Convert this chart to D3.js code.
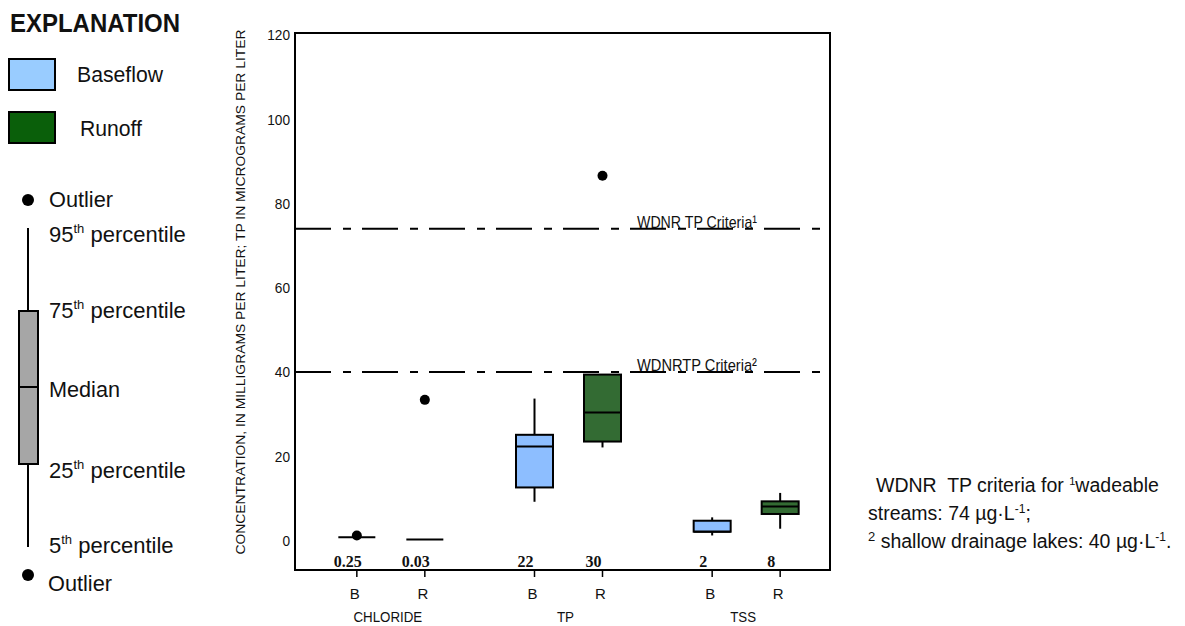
<!DOCTYPE html>
<html><head><meta charset="utf-8">
<script src="https://cdn.jsdelivr.net/npm/d3@7"></script>
<style>
body{margin:0;background:#fff}
svg{display:block}
text{font-family:"Liberation Sans",Arial,sans-serif;fill:#111}
</style>
</head><body>
<svg id="c" width="1185" height="626"></svg>
<script>
// ---------- data ----------
const groups = ["CHLORIDE", "TP", "TSS"];
const flows = ["B", "R"];
const boxGroup = ["CHLORIDE", "CHLORIDE", "TP", "TP", "TSS", "TSS"];
const boxFlow = ["B", "R", "B", "R", "B", "R"];
const q1 = [0.8, 0.25, 12.6, 23.5, 2.1, 6.3];
const medians = [0.8, 0.25, 22.3, 30.4, 2.1, 8.1];
const q3 = [0.8, 0.25, 25.1, 39.4, 4.7, 9.3];
const whiskerLo = [0.8, 0.25, 9.2, 22.1, 1.2, 2.8];
const whiskerHi = [0.8, 0.25, 33.7, 39.4, 5.5, 11.3];
const outliers = [[1.2], [33.4], [], [86.6], [], []];
const medianLabels = ["0.25", "0.03", "22", "30", "2", "8"];
const yTicks = [0, 20, 40, 60, 80, 100, 120];
const criteriaValues = [74, 40];
const criteriaLabels = ["WDNR TP Criteria\u00B9", "WDNRTP Criteria\u00B2"];

const flowFill = {B: "#8DBEFF", R: "#336B33"};

// ---------- scales ----------
const svg = d3.select("#c");
const plot = {left: 295, right: 830, top: 33, bottom: 570};
const y = d3.scaleLinear().domain([-7, 120.5]).range([plot.bottom, plot.top]);
const x0 = d3.scaleBand().domain(groups).range([302, 835]);
const x1 = d3.scalePoint().domain(flows).range([-34, 34]);
const xPos = i => x0(boxGroup[i]) + x0.bandwidth() / 2 + x1(boxFlow[i]);
const boxW = 37;
const idx = d3.range(boxGroup.length);

// ---------- criteria lines ----------
const crit = svg.append("g");
crit.selectAll("line").data(criteriaValues).join("line")
  .attr("x1", plot.left).attr("x2", plot.right)
  .attr("y1", d => y(d)).attr("y2", d => y(d))
  .attr("stroke", "#000").attr("stroke-width", 2)
  .attr("stroke-dasharray", "36,12,8,11");
crit.selectAll("text").data(criteriaValues).join("text")
  .attr("x", 637).attr("y", d => y(d) - 1)
  .attr("font-size", 17).attr("textLength", 120).attr("lengthAdjust", "spacingAndGlyphs")
  .text((d, i) => criteriaLabels[i]);

// ---------- boxes ----------
const bx = svg.append("g");
bx.selectAll("line.wh").data(idx).join("line").attr("class", "wh")
  .attr("x1", i => xPos(i)).attr("x2", i => xPos(i))
  .attr("y1", i => y(whiskerHi[i])).attr("y2", i => y(q3[i]))
  .attr("stroke", "#000").attr("stroke-width", 2);
bx.selectAll("line.wl").data(idx).join("line").attr("class", "wl")
  .attr("x1", i => xPos(i)).attr("x2", i => xPos(i))
  .attr("y1", i => y(q1[i])).attr("y2", i => y(whiskerLo[i]))
  .attr("stroke", "#000").attr("stroke-width", 2);
bx.selectAll("rect").data(idx).join("rect")
  .attr("x", i => xPos(i) - boxW / 2).attr("width", boxW)
  .attr("y", i => y(q3[i])).attr("height", i => y(q1[i]) - y(q3[i]))
  .attr("fill", i => flowFill[boxFlow[i]])
  .attr("stroke", "#000").attr("stroke-width", 2);
bx.selectAll("line.md").data(idx).join("line").attr("class", "md")
  .attr("x1", i => xPos(i) - boxW / 2).attr("x2", i => xPos(i) + boxW / 2)
  .attr("y1", i => y(medians[i])).attr("y2", i => y(medians[i]))
  .attr("stroke", "#000").attr("stroke-width", 2);
const outPts = idx.flatMap(i => outliers[i].map(v => ({i, v})));
bx.selectAll("circle").data(outPts).join("circle")
  .attr("cx", d => xPos(d.i)).attr("cy", d => y(d.v)).attr("r", 5).attr("fill", "#000");

// ---------- frame ----------
svg.append("rect").attr("x", plot.left).attr("y", plot.top)
  .attr("width", plot.right - plot.left).attr("height", plot.bottom - plot.top)
  .attr("fill", "none").attr("stroke", "#000").attr("stroke-width", 2);

// ---------- y axis ----------
const ya = svg.append("g").attr("transform", `translate(${plot.left},0)`)
  .call(d3.axisLeft(y).tickValues(yTicks).tickSize(0).tickPadding(5));
ya.select(".domain").remove();
ya.selectAll("text").attr("font-size", 15).attr("fill", "#111")
  .attr("textLength", d => String(d).length * 7.6).attr("lengthAdjust", "spacingAndGlyphs")
  .style("font-family", '"Liberation Sans",Arial,sans-serif');

svg.append("text")
  .attr("transform", "translate(245,292) rotate(-90)")
  .attr("text-anchor", "middle").attr("font-size", 13.5)
  .attr("textLength", 525).attr("lengthAdjust", "spacingAndGlyphs")
  .text("CONCENTRATION, IN MILLIGRAMS PER LITER; TP IN MICROGRAMS PER LITER");

// ---------- x axis ----------
const xa = svg.append("g");
xa.selectAll("line").data(idx).join("line")
  .attr("x1", i => xPos(i)).attr("x2", i => xPos(i))
  .attr("y1", plot.bottom).attr("y2", plot.bottom + 7)
  .attr("stroke", "#000").attr("stroke-width", 1.5);
xa.selectAll("text.fl").data(idx).join("text").attr("class", "fl")
  .attr("x", i => xPos(i) - 2).attr("y", 599)
  .attr("text-anchor", "middle").attr("font-size", 15)
  .text(i => boxFlow[i]);
xa.selectAll("text.gr").data(groups).join("text").attr("class", "gr")
  .attr("x", g => x0(g) + x0.bandwidth() / 2 - 3).attr("y", 622)
  .attr("text-anchor", "middle").attr("font-size", 14.5)
  .attr("textLength", g => g.length * 8.6).attr("lengthAdjust", "spacingAndGlyphs")
  .text(g => g);
xa.selectAll("text.ml").data(idx).join("text").attr("class", "ml")
  .attr("x", i => xPos(i) - 9).attr("y", 567)
  .attr("text-anchor", "middle").attr("font-size", 16).attr("font-weight", "bold")
  .style("font-family", '"Liberation Serif","Times New Roman",serif')
  .text(i => medianLabels[i]);

// ---------- explanation (legend) ----------
const lg = svg.append("g");
lg.append("text").attr("x", 10).attr("y", 32).attr("font-size", 26).attr("font-weight", "bold")
  .attr("textLength", 170).attr("lengthAdjust", "spacingAndGlyphs").text("EXPLANATION");
lg.append("rect").attr("x", 9).attr("y", 59).attr("width", 46).attr("height", 31)
  .attr("fill", "#99CCFF").attr("stroke", "#000").attr("stroke-width", 2);
lg.append("text").attr("x", 77).attr("y", 82).attr("font-size", 22.5)
  .attr("textLength", 86).attr("lengthAdjust", "spacingAndGlyphs").text("Baseflow");
lg.append("rect").attr("x", 9).attr("y", 112).attr("width", 46).attr("height", 31)
  .attr("fill", "#0A5F0A").attr("stroke", "#000").attr("stroke-width", 2);
lg.append("text").attr("x", 80).attr("y", 136).attr("font-size", 22.5)
  .attr("textLength", 62).attr("lengthAdjust", "spacingAndGlyphs").text("Runoff");

lg.append("circle").attr("cx", 28).attr("cy", 200).attr("r", 6).attr("fill", "#000");
lg.append("text").attr("x", 49).attr("y", 207).attr("font-size", 22.5)
  .attr("textLength", 64).attr("lengthAdjust", "spacingAndGlyphs").text("Outlier");
lg.append("line").attr("x1", 28).attr("x2", 28).attr("y1", 228).attr("y2", 311)
  .attr("stroke", "#000").attr("stroke-width", 2);
lg.append("line").attr("x1", 28).attr("x2", 28).attr("y1", 464).attr("y2", 547)
  .attr("stroke", "#000").attr("stroke-width", 2);
lg.append("rect").attr("x", 19).attr("y", 311).attr("width", 19).attr("height", 153)
  .attr("fill", "#A6A6A6").attr("stroke", "#000").attr("stroke-width", 2);
lg.append("line").attr("x1", 19).attr("x2", 38).attr("y1", 387).attr("y2", 387)
  .attr("stroke", "#000").attr("stroke-width", 2);
lg.append("circle").attr("cx", 28).attr("cy", 575).attr("r", 6).attr("fill", "#000");
lg.append("text").attr("x", 48).attr("y", 591).attr("font-size", 22.5)
  .attr("textLength", 64).attr("lengthAdjust", "spacingAndGlyphs").text("Outlier");
lg.append("text").attr("x", 49).attr("y", 397).attr("font-size", 22.5)
  .attr("textLength", 71).attr("lengthAdjust", "spacingAndGlyphs").text("Median");

function pct(xp, yp, num) {
  const t = lg.append("text").attr("x", xp).attr("y", yp).attr("font-size", 22);
  t.append("tspan").text(num);
  t.append("tspan").attr("font-size", 13).attr("dy", -9).text("th");
  t.append("tspan").attr("dy", 9).text(" percentile");
}
pct(49, 242, "95");
pct(49, 318, "75");
pct(49, 478, "25");
pct(49, 553, "5");

// ---------- notes ----------
const nt = svg.append("g");
const n1 = nt.append("text").attr("x", 876).attr("y", 492).attr("font-size", 19.5);
n1.append("tspan").text("WDNR\u00A0 TP criteria for ");
n1.append("tspan").attr("font-size", 11).attr("dy", -7).text("1");
n1.append("tspan").attr("dy", 7).text("wadeable");
const n2 = nt.append("text").attr("x", 868).attr("y", 520).attr("font-size", 19.5);
n2.append("tspan").text("streams: 74 \u00B5g\u00B7L");
n2.append("tspan").attr("font-size", 12).attr("dy", -7).text("-1");
n2.append("tspan").attr("dy", 7).text(";");
const n3 = nt.append("text").attr("x", 868).attr("y", 548).attr("font-size", 19.5);
n3.append("tspan").attr("font-size", 13).attr("dy", -7).text("2");
n3.append("tspan").attr("dy", 7).text(" shallow drainage lakes: 40 \u00B5g\u00B7L");
n3.append("tspan").attr("font-size", 12).attr("dy", -7).text("-1");
n3.append("tspan").attr("dy", 7).text(".");
</script>
</body></html>
